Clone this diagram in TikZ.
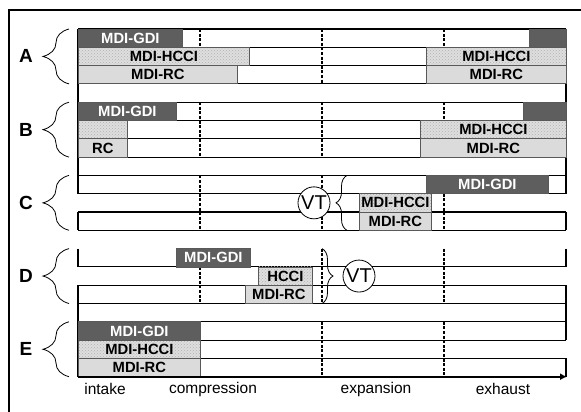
\documentclass[tikz,border=0pt]{standalone}
\usepackage{fontspec}
\setmainfont{Liberation Sans}
\usetikzlibrary{decorations.pathreplacing,patterns,arrows.meta}

\definecolor{gdigray}{gray}{0.37}
\definecolor{hccigray}{gray}{0.87}
\definecolor{rcgray}{gray}{0.86}

\tikzset{
  lane/.style={line width=1.1pt},
  stroke/.style={line width=1.2pt, dash pattern=on 3pt off 1.6pt},
  phase/.style={draw=black!65, line width=.8pt, inner sep=0pt, minimum height=18.3pt,
    font=\fontsize{14.8}{15}\selectfont\bfseries},
  gdi/.style={phase, fill=gdigray, text=white},
  hcci/.style={phase, preaction={fill=hccigray}, pattern=crosshatch dots, pattern color=gray!60},
  rc/.style={phase, fill=rcgray},
  grp/.style={decorate, decoration={brace, amplitude=26pt}, line width=.8pt},
  vtbrace/.style={decorate, decoration={brace, amplitude=11pt}, line width=.8pt},
  vt/.style={circle, draw, fill=white, line width=.8pt, minimum size=32pt, inner sep=0pt,
    font=\fontsize{20}{20}\selectfont},
}

\begin{document}
\begin{tikzpicture}[x=1pt, y=-1pt]
\useasboundingbox (0,0) rectangle (581,412);
\draw[line width=1.6pt] (9,413) -- (9,10) -- (582,10);

% lanes: one row every 18.3
\foreach \k in {0,...,11,13,14,...,18} \draw[lane] (78,{29+18.3*\k}) -- (566,{29+18.3*\k});
\foreach \a/\b in {0/9,10/11,12/13,14/19} \draw[lane] (78,{29+18.3*\a}) -- (78,{29+18.3*\b});
\foreach \a/\b in {0/9,10/11,12/13,14/17,18/19} \draw[lane] (566,{29+18.3*\a}) -- (566,{29+18.3*\b});

% stroke limits
\foreach \g in {0,4,8,12,16}
  \foreach \x in {200,322,444} \draw[stroke] (\x,{29+18.3*\g}) -- (\x,{29+18.3*(\g+3)});

% injection / combustion phases
\foreach \s/\n/\xa/\xb/\k/\t in {
    gdi/ag1/78/182/0/MDI-GDI, gdi/ag2/529/566/0/, hcci/ah1/78/249/1/MDI-HCCI, hcci/ah2/426/566/1/MDI-HCCI,
    rc/ar1/78/237/2/MDI-RC, rc/ar2/426/566/2/MDI-RC,
    gdi/bg1/78/176/4/MDI-GDI, gdi/bg2/523/566/4/, hcci/bh1/78/127/5/, hcci/bh2/420/566/5/MDI-HCCI,
    rc/br1/78/127/6/RC, rc/br2/420/566/6/MDI-RC,
    gdi/cg/426/548/8/MDI-GDI, hcci/ch/359/431/9/MDI-HCCI, rc/cr/359/431/10/MDI-RC,
    gdi/dg/176/250/12/MDI-GDI, hcci/dh/258/312/13/HCCI, rc/dr/245/312/14/MDI-RC,
    gdi/eg/78/200/16/MDI-GDI, hcci/eh/78/200/17/MDI-HCCI, rc/er/78/200/18/MDI-RC}
  \node[\s, minimum width={\xb-\xa}, anchor=west] (\n) at (\xa,{29+18.3*(\k+.5)}) {\t};

% groups
\foreach \l/\k in {A/0,B/4,C/8,D/12,E/16} {
  \node[font=\fontsize{19}{19}\selectfont\bfseries] (g\l) at (26,{29+18.3*(\k+1.5)}) {\l};
  \draw[grp] (69,{29+18.3*(\k+3)}) -- (69,{29+18.3*\k});
}

% variable timing
\node[vt] (vtc) at (314,202.85) {VT};
\draw[vtbrace] (347,230.3) -- (347,175.4);
\node[vt] (vtd) at (359,276.05) {VT};
\draw[vtbrace] (322,248.6) -- (322,303.5);

% time axis
\draw[line width=2pt, -{Latex[length=7pt,width=7pt]}] (78,376.7) -- (567,376.7);
\foreach \n/\x/\t in {intake/105/intake, compr/213/compression, expan/376/expansion, exh/503/exhaust}
  \node[font=\fontsize{15.5}{16}\selectfont] (\n) at (\x,389) {\t};
\end{tikzpicture}
\end{document}
